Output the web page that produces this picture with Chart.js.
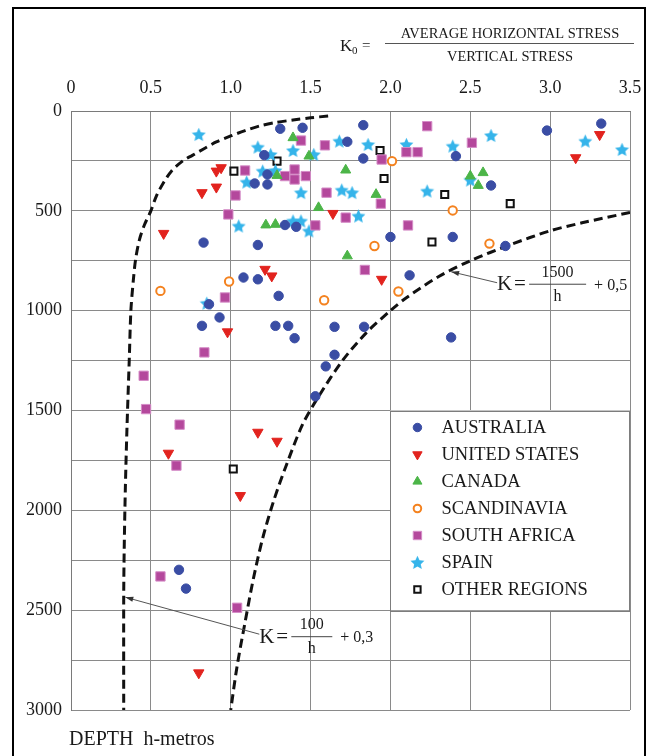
<!DOCTYPE html>
<html>
<head>
<meta charset="utf-8">
<script src="https://cdn.jsdelivr.net/npm/chart.js@4/dist/chart.umd.min.js"></script>
<style>
  html, body { margin: 0; padding: 0; background: #fff; }
  #wrap { width: 656px; height: 756px; }
</style>
</head>
<body>
<div id="wrap"><canvas id="c" width="656" height="756"></canvas></div>
<script>
// Axis ticks: K0 (horizontal) and depth in metres (vertical)
const kTicks = [0, 0.5, 1.0, 1.5, 2.0, 2.5, 3.0, 3.5];
const depthTicks = [0, 500, 1000, 1500, 2000, 2500, 3000];

// Legend order
const regions = ['AUSTRALIA', 'UNITED STATES', 'CANADA', 'SCANDINAVIA', 'SOUTH AFRICA', 'SPAIN', 'OTHER REGIONS'];

// Measurements: [K0, depth h]
const australia = [
  [1.31, 89], [1.45, 84], [1.83, 71], [2.98, 98], [3.32, 63], [1.21, 221], [1.73, 154],
  [1.83, 238], [2.41, 226], [1.23, 318], [1.15, 363], [1.23, 368], [2.63, 373], [1.34, 571],
  [1.41, 580], [0.83, 659], [1.17, 671], [2.00, 631], [2.39, 631], [2.72, 676], [1.08, 834],
  [1.17, 843], [2.12, 823], [1.30, 926], [0.864, 968], [0.93, 1034], [0.82, 1076], [1.28, 1076],
  [1.36, 1076], [1.40, 1138], [1.65, 1081], [1.835, 1081], [2.38, 1134], [1.65, 1221],
  [1.595, 1279], [1.53, 1429], [0.676, 2298], [0.72, 2392]
];
const unitedStates = [
  [3.31, 118], [3.16, 234], [0.94, 284], [0.91, 301], [0.91, 381], [0.82, 409], [1.64, 513],
  [0.58, 613], [1.215, 793], [1.257, 826], [1.945, 843], [0.98, 1106], [1.17, 1609],
  [1.29, 1654], [0.61, 1714], [1.06, 1926], [0.80, 2814]
];
const canada = [
  [1.39, 134], [1.49, 226], [1.29, 323], [1.72, 296], [2.50, 326], [2.58, 309], [2.55, 373],
  [1.91, 418], [1.55, 484], [1.22, 571], [1.28, 568], [1.73, 726]
];
const scandinavia = [
  [2.01, 251], [2.39, 498], [1.90, 676], [2.62, 664], [2.05, 904], [0.99, 854], [0.56, 901],
  [1.585, 948]
];
const southAfrica = [
  [2.23, 76], [1.44, 148], [1.59, 172], [2.51, 159], [1.09, 298], [1.34, 326], [1.40, 293],
  [1.40, 343], [1.47, 326], [1.945, 243], [2.10, 206], [2.17, 206], [1.60, 409], [1.03, 423],
  [1.94, 464], [0.985, 518], [1.72, 534], [1.53, 573], [2.11, 573], [1.84, 796], [0.964, 934],
  [0.835, 1209], [0.455, 1326], [0.47, 1493], [0.68, 1571], [0.66, 1776], [0.56, 2331],
  [1.04, 2488]
];
const spain = [
  [0.80, 118], [1.17, 181], [1.39, 198], [1.52, 218], [1.25, 218], [1.20, 301], [1.28, 298],
  [1.10, 356], [1.44, 409], [1.05, 576], [1.39, 551], [1.44, 551], [1.49, 601], [1.68, 151],
  [1.86, 168], [2.10, 168], [2.39, 176], [2.63, 123], [3.22, 151], [3.45, 193], [2.50, 346],
  [1.695, 396], [1.76, 409], [2.23, 401], [1.80, 526], [0.85, 963]
];
const otherRegions = [
  [1.29, 251], [1.02, 301], [1.935, 198], [1.96, 338], [2.34, 418], [2.75, 464], [2.26, 656],
  [1.016, 1793]
];

// Envelope curves: [K, h]
const lowerBound = [ // K = 100/h + 0,3
  [1.61, 25], [1.50, 34], [1.39, 45], [1.28, 58], [1.18, 75], [1.09, 98], [1.00, 125],
  [0.91, 155], [0.83, 190], [0.76, 222], [0.70, 250], [0.63, 300], [0.58, 358], [0.535, 425],
  [0.50, 500], [0.46, 570], [0.43, 640], [0.405, 740], [0.39, 850], [0.375, 1000],
  [0.365, 1240], [0.35, 1600], [0.34, 1900], [0.333, 2200], [0.33, 2440], [0.33, 3000]
];
const upperBound = [ // K = 1500/h + 0,5
  [3.5, 508], [3.2, 560], [3.0, 600], [2.75, 670], [2.5, 750], [2.3, 830], [2.1, 935],
  [2.0, 1000], [1.85, 1110], [1.7, 1250], [1.55, 1430], [1.45, 1570], [1.35, 1770],
  [1.27, 1950], [1.2, 2140], [1.14, 2350], [1.09, 2560], [1.04, 2780], [1.0, 3000]
];

const SERIF = '"Liberation Serif", "Times New Roman", serif';

function makeStar(size, color) {
  const c = document.createElement('canvas');
  c.width = c.height = size;
  const g = c.getContext('2d');
  const cx = size / 2, cy = size / 2 + 0.6, R = size / 2 - 0.2, r = R * 0.48;
  g.beginPath();
  for (let i = 0; i < 10; i++) {
    const a = -Math.PI / 2 + i * Math.PI / 5;
    const rr = i % 2 ? r : R;
    g.lineTo(cx + rr * Math.cos(a), cy + rr * Math.sin(a));
  }
  g.closePath();
  g.fillStyle = color;
  g.fill();
  return c;
}
const starImg = makeStar(15, '#35b4ea');

const markerStyles = [
  { pointStyle: 'circle',   radius: 4.7, rotation: 0,   bg: '#3a4da4', border: '#3a4da4', width: 1 },
  { pointStyle: 'triangle', radius: 6.0, rotation: 180, bg: '#e2231e', border: '#e2231e', width: 1 },
  { pointStyle: 'triangle', radius: 5.8, rotation: 0,   bg: '#4cb548', border: '#4cb548', width: 1 },
  { pointStyle: 'circle',   radius: 4.2, rotation: 0,   bg: '#ffffff', border: '#f4821f', width: 2 },
  { pointStyle: 'rect',     radius: 6.6, rotation: 0,   bg: '#b4489c', border: '#d58cc7', width: 1 },
  { pointStyle: starImg,    radius: 7.5, rotation: 0,   bg: '#35b4ea', border: '#35b4ea', width: 0 },
  { pointStyle: 'rect',     radius: 5.0, rotation: 0,   bg: '#ffffff', border: '#111111', width: 2 }
];
const seriesData = [australia, unitedStates, canada, scandinavia, southAfrica, spain, otherRegions];

const toXY = arr => arr.map(([k, h]) => ({ x: k, y: h }));

const datasets = regions.map((name, i) => {
  const s = markerStyles[i];
  return {
    label: name,
    data: toXY(seriesData[i]),
    pointStyle: s.pointStyle,
    pointRadius: s.radius,
    pointRotation: s.rotation,
    pointBackgroundColor: s.bg,
    pointBorderColor: s.border,
    pointBorderWidth: s.width,
    showLine: false,
    order: 1
  };
});

const curveStyle = {
  showLine: true,
  borderColor: '#111',
  borderWidth: 3,
  borderDash: [9, 5],
  borderCapStyle: 'butt',
  pointRadius: 0,
  tension: 0.3,
  fill: false,
  order: 10
};
datasets.push(Object.assign({ label: 'K = 100/h + 0,3', data: toXY(lowerBound) }, curveStyle));
datasets.push(Object.assign({ label: 'K = 1500/h + 0,5', data: toXY(upperBound) }, curveStyle));

function drawMarker(ctx, s, x, y, scale) {
  ctx.save();
  ctx.fillStyle = s.bg;
  ctx.strokeStyle = s.border;
  ctx.lineWidth = s.width;
  if (Chart.helpers && Chart.helpers.drawPoint) {
    Chart.helpers.drawPoint(ctx, { pointStyle: s.pointStyle, radius: s.radius * scale, rotation: s.rotation, borderWidth: s.width }, x, y);
  }
  ctx.restore();
}

function arrowLine(ctx, x0, y0, x1, y1) {
  // thin leader from label (x1,y1) to curve point (x0,y0) with a small head at the curve
  ctx.save();
  ctx.strokeStyle = '#555';
  ctx.fillStyle = '#333';
  ctx.lineWidth = 1;
  ctx.beginPath();
  ctx.moveTo(x1, y1);
  ctx.lineTo(x0, y0);
  ctx.stroke();
  const ang = Math.atan2(y1 - y0, x1 - x0);
  const L = 8, W = 2.6;
  ctx.beginPath();
  ctx.moveTo(x0, y0);
  ctx.lineTo(x0 + L * Math.cos(ang) - W * Math.sin(ang), y0 + L * Math.sin(ang) + W * Math.cos(ang));
  ctx.lineTo(x0 + L * Math.cos(ang) + W * Math.sin(ang), y0 + L * Math.sin(ang) - W * Math.cos(ang));
  ctx.closePath();
  ctx.fill();
  ctx.restore();
}

function formula(ctx, x, y, numer, tail) {
  // "K = numer/h + tail" with x = left of K, y = fraction bar
  ctx.save();
  ctx.fillStyle = '#1a1a1a';
  ctx.textBaseline = 'middle';
  ctx.textAlign = 'left';
  ctx.font = '21px ' + SERIF;
  ctx.fillText('K', x, y + 1);
  ctx.fillText('=', x + 17, y + 1);
  const barL = x + 32, barR = barL + (numer.length > 3 ? 57 : 41);
  ctx.strokeStyle = '#444';
  ctx.lineWidth = 1;
  ctx.beginPath();
  ctx.moveTo(barL, y + 0.5);
  ctx.lineTo(barR, y + 0.5);
  ctx.stroke();
  ctx.font = '16px ' + SERIF;
  ctx.textAlign = 'center';
  ctx.fillText(numer, (barL + barR) / 2, y - 11);
  ctx.fillText('h', (barL + barR) / 2, y + 13);
  ctx.textAlign = 'left';
  ctx.fillText(tail, barR + 8, y + 2);
  ctx.restore();
}

const decor = {
  id: 'decor',
  beforeDraw(chart) {
    const { ctx, width, height } = chart;
    ctx.save();
    ctx.fillStyle = '#fff';
    ctx.fillRect(0, 0, width, height);
    ctx.strokeStyle = '#000';
    ctx.lineWidth = 2;
    ctx.strokeRect(13, 8, 632, height + 20);
    ctx.restore();
  },
  afterDatasetsDraw(chart) {
    const { ctx, chartArea: a, scales: { x, y } } = chart;

    // legend panel
    const L = x.getPixelForValue(2.0), T = y.getPixelForValue(1500);
    const R = a.right, B = y.getPixelForValue(2500);
    ctx.save();
    ctx.fillStyle = '#fff';
    ctx.fillRect(L, T, R - L, B - T);
    ctx.strokeStyle = '#7d7d7d';
    ctx.lineWidth = 1;
    ctx.strokeRect(Math.round(L) + 0.5, Math.round(T) + 0.5, Math.round(R - L) - 1, Math.round(B - T));
    ctx.font = '18.5px ' + SERIF;
    ctx.textBaseline = 'middle';
    ctx.textAlign = 'left';
    regions.forEach((name, i) => {
      const cy = T + 17 + i * 27;
      drawMarker(ctx, markerStyles[i], L + 27, cy, 0.9);
      ctx.fillStyle = '#1a1a1a';
      ctx.fillText(name, L + 51, cy + 1);
    });
    ctx.restore();

    // curve labels with leaders
    const p1 = { x: x.getPixelForValue(2.38), y: y.getPixelForValue(805) };
    arrowLine(ctx, p1.x, p1.y, p1.x + 46, p1.y + 11);
    formula(ctx, p1.x + 46, p1.y + 12, '1500', '+ 0,5');
    const p2 = { x: x.getPixelForValue(0.34), y: y.getPixelForValue(2435) };
    arrowLine(ctx, p2.x, p2.y, p2.x + 134, p2.y + 37);
    formula(ctx, p2.x + 134, p2.y + 39, '100', '+ 0,3');

    // K0 definition
    ctx.save();
    ctx.fillStyle = '#1a1a1a';
    ctx.textBaseline = 'alphabetic';
    ctx.textAlign = 'left';
    ctx.font = '17px ' + SERIF;
    ctx.fillText('K', 340, 51);
    ctx.font = '11px ' + SERIF;
    ctx.fillText('0', 352, 54);
    ctx.font = '15px ' + SERIF;
    ctx.fillText('=', 362, 50);
    ctx.font = '14.5px ' + SERIF;
    ctx.textAlign = 'center';
    ctx.fillText('AVERAGE HORIZONTAL STRESS', 510, 38);
    ctx.fillText('VERTICAL STRESS', 510, 61);
    ctx.strokeStyle = '#555';
    ctx.lineWidth = 1;
    ctx.beginPath();
    ctx.moveTo(385, 43.5);
    ctx.lineTo(634, 43.5);
    ctx.stroke();

    // depth axis caption
    ctx.font = '20px ' + SERIF;
    ctx.textAlign = 'left';
    ctx.textBaseline = 'middle';
    ctx.fillText('DEPTH  h-metros', 69, 740);
    ctx.restore();
  }
};

new Chart(document.getElementById('c'), {
  type: 'scatter',
  data: { datasets },
  options: {
    responsive: false,
    animation: false,
    events: [],
    layout: { padding: { left: 0, right: 26, top: 0, bottom: 46 } },
    scales: {
      x: {
        type: 'linear',
        position: 'top',
        min: 0,
        max: 3.5,
        afterFit(s) { s.height = 111; },
        afterBuildTicks(s) { s.ticks = kTicks.map(v => ({ value: v })); },
        ticks: {
          autoSkip: false,
          maxRotation: 0,
          padding: 12,
          color: '#1a1a1a',
          font: { family: SERIF, size: 18 },
          callback: v => (v === 0 ? '0' : Number(v).toFixed(1))
        },
        grid: { color: '#8a8a8a', lineWidth: 1, drawTicks: false },
        border: { color: '#7a7a7a', width: 1 }
      },
      y: {
        type: 'linear',
        reverse: true,
        min: 0,
        max: 3000,
        afterFit(s) { s.width = 71; },
        ticks: {
          stepSize: 250,
          autoSkip: false,
          padding: 9,
          color: '#1a1a1a',
          font: { family: SERIF, size: 18 },
          callback: v => (depthTicks.includes(v) ? String(v) : '')
        },
        grid: { color: '#8a8a8a', lineWidth: 1, drawTicks: false },
        border: { color: '#7a7a7a', width: 1 }
      }
    },
    plugins: {
      legend: { display: false },
      tooltip: { enabled: false }
    }
  },
  plugins: [decor]
});
</script>
</body>
</html>
